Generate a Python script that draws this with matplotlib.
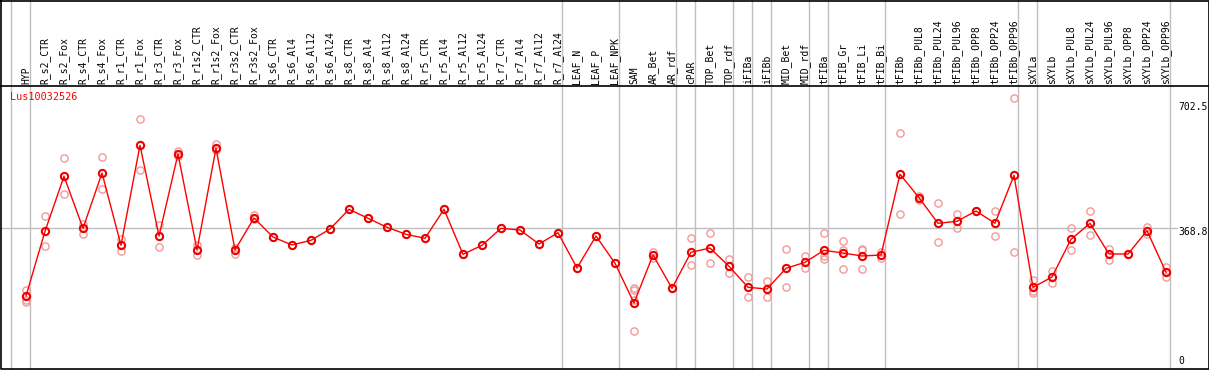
import matplotlib
matplotlib.use("Agg")
import matplotlib.pyplot as plt

gene = "Lus10032526"

groups = [
    ["HYP"],
    ["R_s2_CTR", "R_s2_Fox", "R_s4_CTR", "R_s4_Fox", "R_r1_CTR", "R_r1_Fox",
     "R_r3_CTR", "R_r3_Fox", "R_r1s2_CTR", "R_r1s2_Fox", "R_r3s2_CTR", "R_r3s2_Fox",
     "R_s6_CTR", "R_s6_Al4", "R_s6_Al12", "R_s6_Al24", "R_s8_CTR", "R_s8_Al4",
     "R_s8_Al12", "R_s8_Al24", "R_r5_CTR", "R_r5_Al4", "R_r5_Al12", "R_r5_Al24",
     "R_r7_CTR", "R_r7_Al4", "R_r7_Al12", "R_r7_Al24"],
    ["LEAF_N", "LEAF_P", "LEAF_NPK"],
    ["SAM", "AR_Bet", "AR_rdf"],
    ["cPAR"],
    ["TOP_Bet", "TOP_rdf"],
    ["iFIBa"],
    ["iFIBb"],
    ["MID_Bet", "MID_rdf"],
    ["tFIBa"],
    ["tFIB_Gr", "tFIB_Li", "tFIB_Bi"],
    ["tFIBb", "tFIBb_PUL8", "tFIBb_PUL24", "tFIBb_PUL96", "tFIBb_OPP8",
     "tFIBb_OPP24", "tFIBb_OPP96"],
    ["sXYLa"],
    ["sXYLb", "sXYLb_PUL8", "sXYLb_PUL24", "sXYLb_PUL96", "sXYLb_OPP8",
     "sXYLb_OPP24", "sXYLb_OPP96"],
]

means = [
    193.7,
    360.2, 501.7, 367.9, 510.2, 324.2, 581.5, 348.1, 559.1, 312.1, 573.8, 312.1, 394.4,
    345.5, 325.0, 337.0, 366.1, 416.8, 393.7, 370.5, 352.5, 342.2, 416.8, 301.0, 324.2,
    367.9, 363.5, 327.5, 356.6,
    265.8, 348.1, 277.9,
    175.7, 299.2, 213.5,
    306.2,
    317.2, 270.2,
    216.1,
    211.7,
    265.0, 280.4,
    311.3,
    304.4, 296.7, 299.2,
    507.1, 446.7, 380.8, 385.9, 412.4, 380.8, 504.3,
    216.1,
    242.6, 339.6, 380.8, 301.8, 301.8, 361.8, 254.7,
]

replicates = [
    [209.2, 183.4, 178.3],
    [398.8, 322.4], [548.0, 455.4], [379.0, 353.3], [550.6, 468.3], [339.6, 308.7],
    [649.1, 517.2], [375.6, 319.8], [567.6, 554.0], [325.0, 298.5], [584.0, 569.4],
    [316.5, 301.8], [402.1, 392.6],
    [345.5], [325.0], [337.0], [366.1], [416.8], [393.7], [370.5], [352.5], [342.2],
    [416.8], [301.0], [324.2], [367.9], [363.5], [327.5], [356.6],
    [265.8], [348.1], [277.9],
    [215.1, 209.2, 183.4, 103.6], [307.7, 290.7], [213.5],
    [342.2, 273.5],
    [355.1, 277.9], [288.9, 252.1],
    [242.6, 190.4],
    [231.6, 191.9],
    [313.9, 216.1], [296.7, 266.5],
    [355.1, 296.7, 288.2],
    [335.3, 312.1, 262.4], [314.7, 312.1, 262.4], [307.7, 290.7],
    [613.6, 403.9], [451.8, 441.6], [432.2, 331.9], [403.9, 367.9], [412.4],
    [412.4, 348.1], [702.5, 306.2],
    [235.0, 200.7, 207.4],
    [258.8, 226.4], [367.9, 311.3], [412.4, 350.7], [315.4, 286.4], [301.8],
    [372.0, 353.3], [267.6, 243.4],
]

y_ticks = [702.5, 368.8, 0]
ref_value = 368.8

names = [n for g in groups for n in g]
xs = list(range(len(names)))

W, H = 1209, 370
fig = plt.figure(figsize=(W / 100, H / 100), dpi=100)
ax = fig.add_axes([0, 0, 1, 1])
ax.set_axis_off()

# pixel layout: column i centred at 26 + 19*i ; value v at y = 371.3 - 0.38867*v
ax.set_xlim(-26 / 19, (W - 26) / 19)
ax.set_ylim((371.3 - H) / 0.38867, 371.3 / 0.38867)

font = "DejaVu Sans Mono"
grid_c = "#c0c0c0"

# group boundary lines
bounds = [-1]
c = -1
for g in groups:
    c += len(g)
    bounds.append(c)
yb = 1 - 369 / H
for b in bounds:
    ax.plot([b + 0.22, b + 0.22], [yb, 1], color=grid_c, lw=1.0,
            transform=ax.get_xaxis_transform(), clip_on=False, zorder=1)

# reference horizontal line
ax.plot([0, 1177 / W], [ref_value, ref_value], color=grid_c, lw=1.0,
        transform=ax.get_yaxis_transform(), zorder=1)

# frame and separator
sep = 1 - 85.5 / H
ax.plot([0, 1], [sep, sep], color="black", lw=1.2, transform=ax.transAxes, zorder=5)
ax.plot([0.5 / W, 1208.5 / W, 1208.5 / W, 0.5 / W, 0.5 / W],
        [1 - 0.5 / H, 1 - 0.5 / H, yb, yb, 1 - 0.5 / H],
        color="black", lw=1.2, transform=ax.transAxes, zorder=5, clip_on=False)

# column labels
for x, n in zip(xs, names):
    ax.text(x, 1 - 83.5 / H, n, rotation=90, ha="center", va="bottom",
            fontsize=7, family=font, color="black",
            transform=ax.get_xaxis_transform())

# gene title
ax.text(10 / W, 1 - 97.5 / H, gene, color="red", fontsize=7.3, family=font,
        ha="left", va="center", transform=ax.transAxes)

# y tick labels
tick_pos = {702.5: 106.7, 368.8: 232.0, 0: 361.5}
for t in y_ticks:
    lab = ("%g" % t) if t != 0 else "0"
    ax.text(1178 / W, 1 - tick_pos[t] / H, lab, fontsize=7, family=font,
            ha="left", va="center", color="black", transform=ax.transAxes)

# replicate points
rx, ry = [], []
for x, reps in zip(xs, replicates):
    for r in reps:
        rx.append(x)
        ry.append(r)
ax.plot(rx, ry, ls="none", marker="o", ms=5.2, mfc="none", mec="#f09a9a",
        mew=1.0, zorder=3)

# mean line
ax.plot(xs, means, color="red", lw=1.0, marker="o", ms=5.2, mfc="none",
        mec="#ee0000", mew=1.5, zorder=4)

fig.savefig("out.png", dpi=100)
